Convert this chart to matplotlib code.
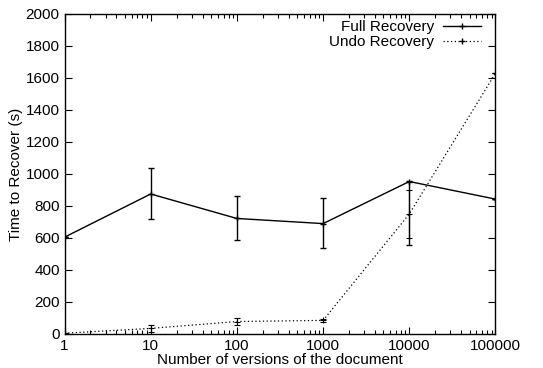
import numpy as np
import matplotlib
matplotlib.use('Agg')
import matplotlib.pyplot as plt
from matplotlib.lines import Line2D
from matplotlib.ticker import LogLocator, NullFormatter

plt.rcParams['font.family'] = ['Liberation Sans', 'DejaVu Sans']

versions = [1, 10, 100, 1000, 10000, 100000]

full = [605, 875, 722, 690, 953, 843]
full_lo = [605, 720, 585, 535, 557, 843]
full_hi = [605, 1035, 865, 848, 955, 843]

undo = [5, 35, 78, 85, 750, 1630]
undo_lo = [5, 15, 55, 75, 600, 1630]
undo_hi = [5, 55, 100, 95, 900, 1630]

fig = plt.figure(figsize=(5.43, 3.68), dpi=100)
ax = fig.add_axes([0.1188, 0.0924, 0.7937, 0.8696])

full = np.array(full)
undo = np.array(undo)
ax.errorbar(versions, full,
            yerr=[full - np.array(full_lo), np.array(full_hi) - full],
            color='black', lw=1.0, marker='+', ms=4, mew=1.0,
            capsize=2.2, elinewidth=1.0, capthick=1.0)
ax.errorbar(versions, undo,
            yerr=[undo - np.array(undo_lo), np.array(undo_hi) - undo],
            color='black', lw=0.9, ls=(0, (1, 2)), marker='+', ms=4, mew=0.8,
            capsize=2.2, elinewidth=0.8, capthick=0.8)

ax.set_xscale('log')
ax.set_xlim(1, 100000)
ax.set_ylim(0, 2000)
ax.set_xticks(versions)
ax.set_xticklabels(['1', '10', '100', '1000', '10000', '100000'])
ax.xaxis.set_minor_locator(LogLocator(base=10, subs=np.arange(2, 10)))
ax.xaxis.set_minor_formatter(NullFormatter())
ax.set_yticks(np.arange(0, 2001, 200))

ax.tick_params(which='both', direction='in', top=True, right=True,
               labelsize=11, width=0.8)
ax.tick_params(which='major', length=5)
ax.tick_params(which='minor', length=3)
for s in ax.spines.values():
    s.set_linewidth(1.0)

ax.set_xlabel('Number of versions of the document', fontsize=11, labelpad=0)
ax.set_ylabel('Time to Recover (s)', fontsize=11, labelpad=2)

handles = [Line2D([], [], color='black', lw=1.0, marker='+', ms=4),
           Line2D([], [], color='black', lw=0.9, ls=(0, (1, 2)), marker='+', ms=4)]
ax.legend(handles, ['Full Recovery', 'Undo Recovery'], loc='upper right',
          bbox_to_anchor=(0.992, 1.015), frameon=False, markerfirst=False,
          fontsize=11, handlelength=2.5, handletextpad=0.6,
          labelspacing=0.1, borderaxespad=0.3)

fig.savefig('out.png', dpi=100)
